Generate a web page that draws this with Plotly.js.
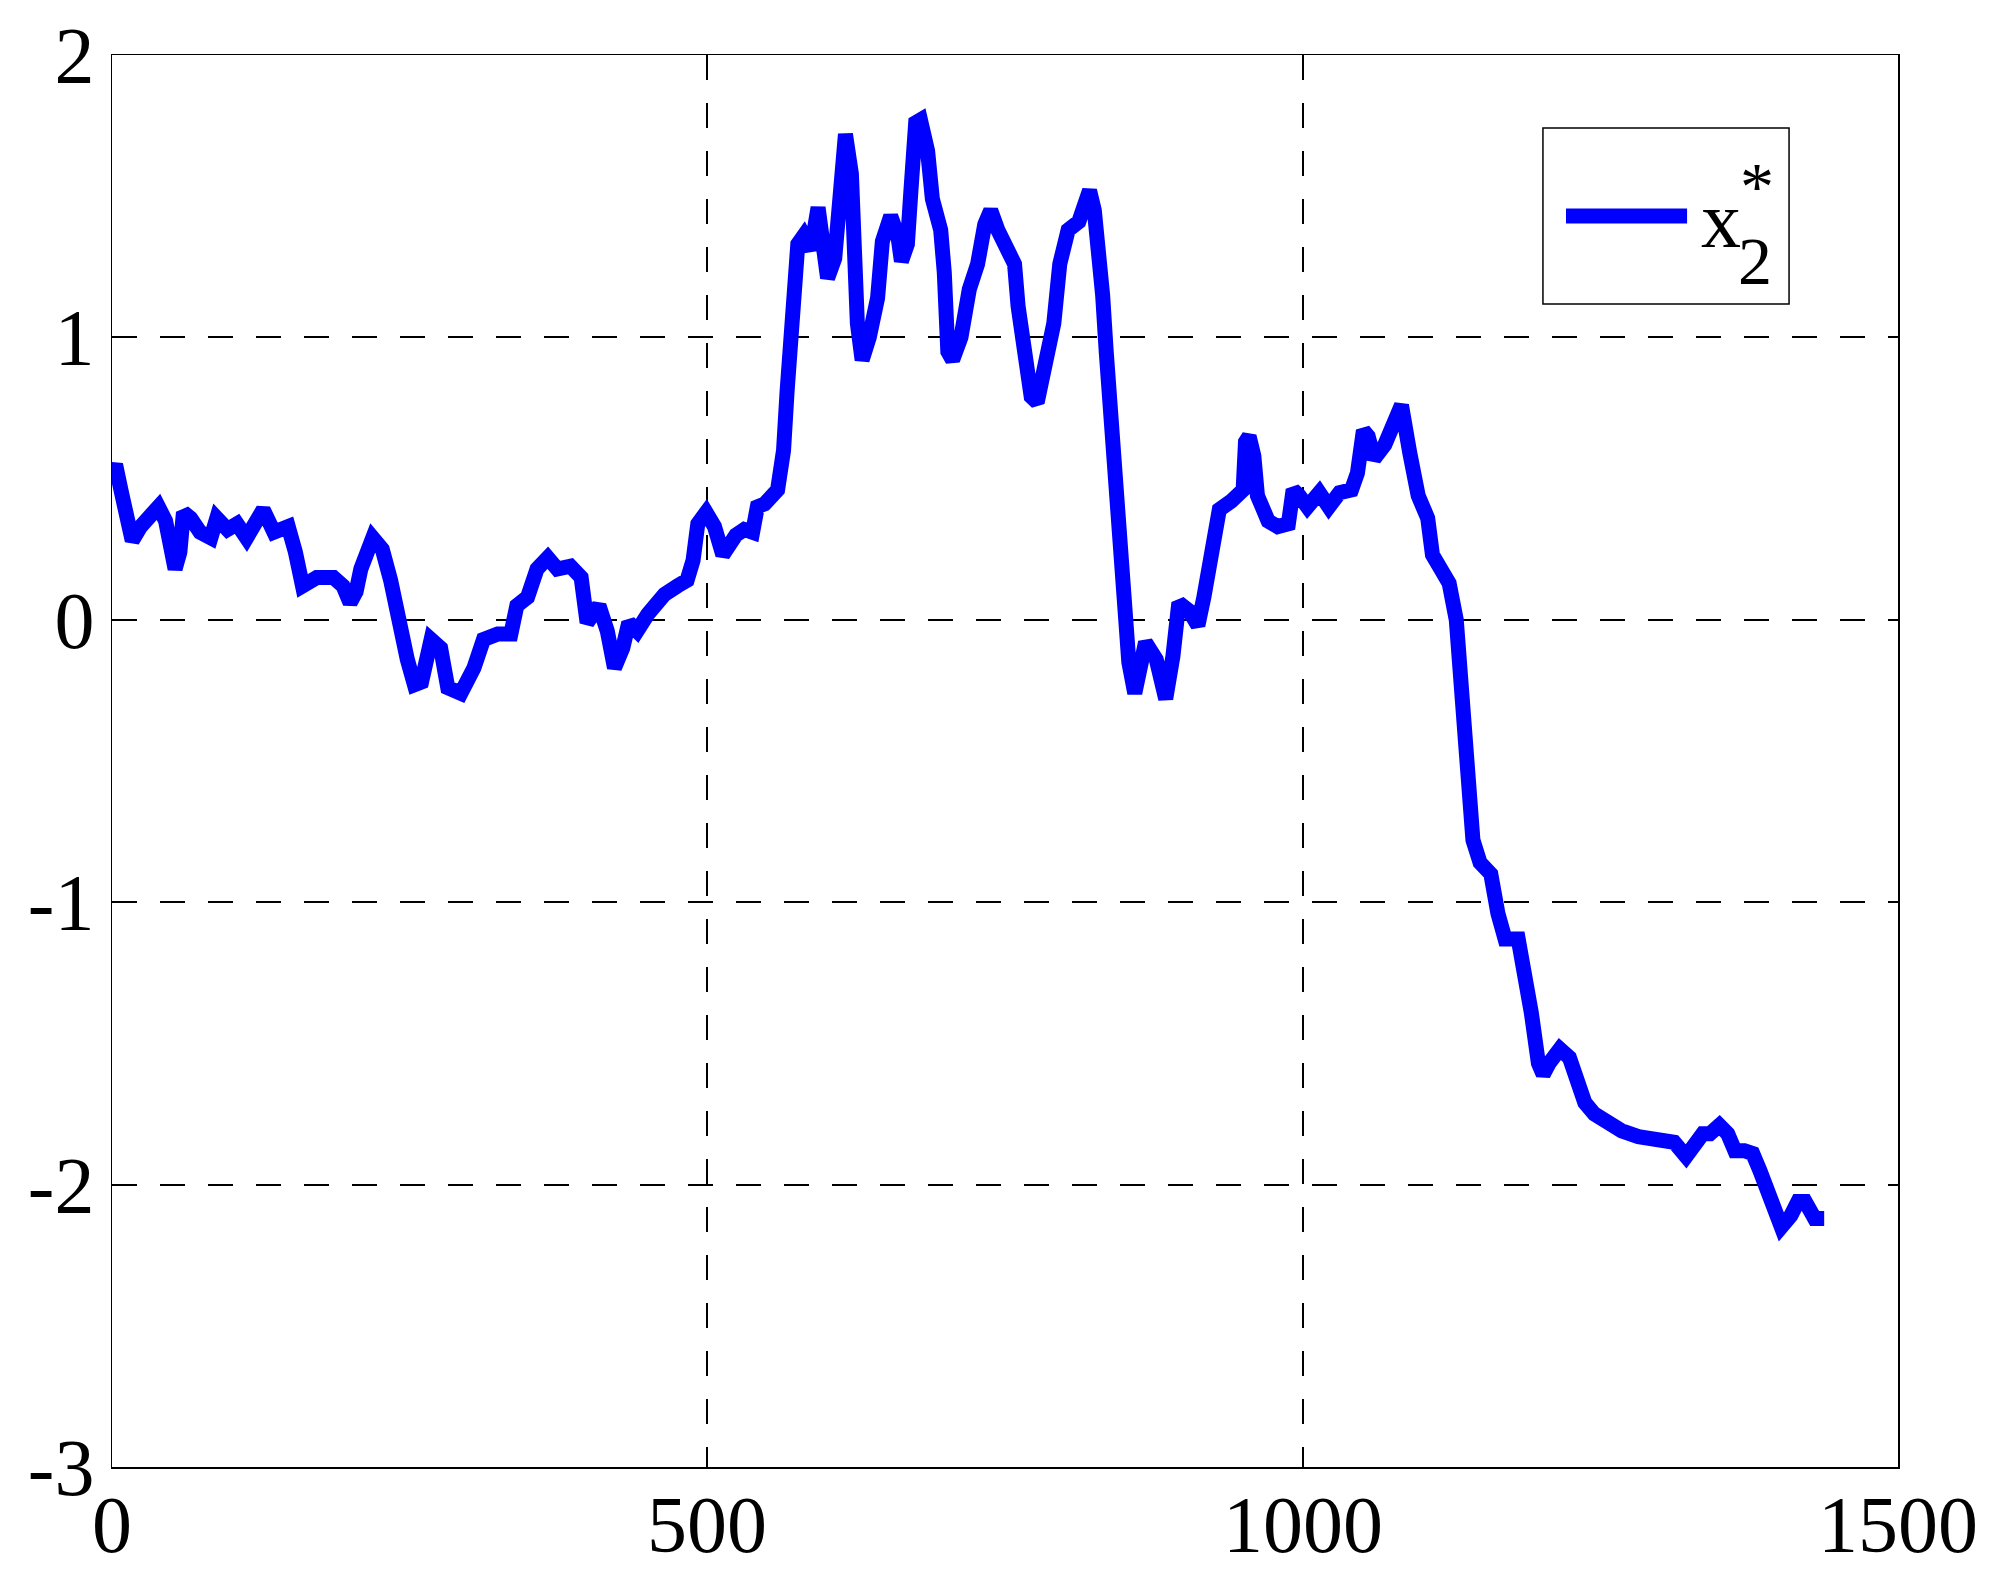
<!DOCTYPE html>
<html>
<head>
<meta charset="utf-8">
<script src="https://cdn.plot.ly/plotly-3.0.1.min.js"></script>
<style>
  html, body { margin: 0; padding: 0; background: #fff; }
  #chart { width: 2008px; height: 1576px; }
</style>
</head>
<body>
<div id="chart"></div>
<script>
// samples of x2*
const stepX = [
  0, 3, 8, 12, 17, 24, 32, 39, 45, 49, 53, 57, 60, 66, 74, 83, 88, 97, 105, 113,
  120, 127, 136, 148, 154, 160, 172, 186, 194, 200, 205, 209, 219, 227, 234, 242, 248, 254, 260, 268,
  276, 282, 293, 304, 312, 324, 335, 340, 349, 357, 366, 374, 385, 394, 399, 409, 416, 422, 429, 434,
  441, 450, 464, 475, 483, 488, 492, 499, 506, 513, 524, 531, 538, 542, 548, 559, 564, 567, 570, 573,
  576, 581, 587, 593, 597, 601, 607, 611, 616, 621, 623, 626, 630, 636, 643, 647, 654, 660, 663, 668,
  671, 675, 679, 685, 689, 696, 699, 702, 706, 713, 720, 727, 733, 738, 744, 752, 758, 761, 766, 772,
  777, 783, 791, 796, 803, 812, 817, 821, 825, 829, 832, 835, 839, 845, 847, 850, 854, 859, 863, 868,
  877, 881, 885, 891, 896, 905, 912, 917, 922, 926, 930, 940, 950, 952, 955, 959, 962, 971, 979, 988,
  992, 997, 1004, 1014, 1022, 1031, 1041, 1046, 1051, 1055, 1060, 1069, 1076, 1083, 1090, 1097, 1105, 1109, 1116, 1123,
  1129, 1132, 1135, 1139, 1143, 1149, 1158, 1164, 1170, 1181, 1186, 1192, 1198, 1202, 1207, 1216, 1224, 1231, 1237, 1245,
  1254, 1268, 1282, 1298, 1312, 1322, 1329, 1336, 1342, 1350, 1357, 1363, 1371, 1378, 1384, 1391, 1396, 1402, 1410, 1416,
  1422, 1430, 1438
];
const x2Star = [
  0.52, 0.55, 0.45, 0.36, 0.28, 0.33, 0.37, 0.40, 0.35, 0.22, 0.18, 0.24, 0.38, 0.36, 0.31, 0.29, 0.36, 0.32, 0.34, 0.29,
  0.33, 0.39, 0.31, 0.33, 0.24, 0.12, 0.15, 0.15, 0.12, 0.06, 0.10, 0.18, 0.29, 0.25, 0.14, -0.04, -0.14, -0.23, -0.22, -0.07,
  -0.10, -0.24, -0.26, -0.17, -0.07, -0.05, -0.05, 0.05, 0.08, 0.18, 0.22, 0.18, 0.19, 0.15, -0.01, 0.05, -0.04, -0.17, -0.10, -0.01,
  -0.04, 0.02, 0.09, 0.12, 0.14, 0.21, 0.34, 0.38, 0.33, 0.23, 0.30, 0.32, 0.31, 0.40, 0.41, 0.46, 0.60, 0.81, 1.05, 1.23,
  1.33, 1.36, 1.31, 1.46, 1.31, 1.21, 1.28, 1.58, 1.72, 1.58, 1.28, 1.05, 0.92, 1.00, 1.14, 1.34, 1.43, 1.36, 1.27, 1.33,
  1.52, 1.76, 1.77, 1.66, 1.49, 1.38, 1.23, 0.95, 0.92, 1.00, 1.17, 1.26, 1.40, 1.45, 1.38, 1.31, 1.26, 1.11, 0.95, 0.79,
  0.77, 0.90, 1.05, 1.26, 1.38, 1.41, 1.49, 1.52, 1.45, 1.31, 1.15, 0.95, 0.70, 0.46, 0.22, 0.03, -0.15, -0.26, -0.20, -0.08,
  -0.14, -0.25, -0.28, -0.13, 0.06, 0.03, -0.02, 0.08, 0.22, 0.34, 0.39, 0.42, 0.46, 0.63, 0.65, 0.58, 0.44, 0.35, 0.33, 0.34,
  0.46, 0.44, 0.40, 0.45, 0.40, 0.45, 0.46, 0.52, 0.67, 0.65, 0.57, 0.62, 0.70, 0.76, 0.59, 0.44, 0.36, 0.23, 0.18, 0.13,
  0.00, -0.21, -0.42, -0.61, -0.78, -0.86, -0.90, -1.04, -1.13, -1.13, -1.23, -1.39, -1.57, -1.61, -1.57, -1.52, -1.55, -1.63, -1.71, -1.75,
  -1.78, -1.81, -1.83, -1.84, -1.85, -1.90, -1.86, -1.82, -1.82, -1.79, -1.82, -1.88, -1.88, -1.89, -1.95, -2.02, -2.07, -2.15, -2.11, -2.06,
  -2.06, -2.12, -2.12
];

const xTicks = [0, 500, 1000, 1500];
const yTicks = [-3, -2, -1, 0, 1, 2];
const yTickText = ['-3', '-2', '-1', '0', '1', '2'];

const serif = 'Liberation Serif, Times New Roman, serif';
const lineBlue = '#0000ff';

const trace = {
  type: 'scatter',
  mode: 'lines',
  x: stepX,
  y: x2Star,
  name: 'x2*',
  showlegend: false,
  line: {color: lineBlue, width: 15}
};

const axisCommon = {
  showline: true,
  mirror: true,
  linecolor: '#000',
  linewidth: 1.5,
  ticks: '',
  showgrid: true,
  gridcolor: '#000',
  gridwidth: 2,
  griddash: '25px,23px',
  zeroline: false,
  tickfont: {family: serif, size: 80, color: '#000'}
};

// x tick labels sit tighter under the axis than plotly allows, so place them as annotations
const xLabelNotes = xTicks.map(function (v) {
  return {
    xref: 'x', yref: 'paper', x: v, y: 0, text: String(v), showarrow: false,
    xanchor: 'center', yanchor: 'top', yshift: -12,
    font: {family: serif, size: 80, color: '#000'}
  };
});

const layout = {
  width: 2008,
  height: 1576,
  margin: {l: 112, r: 110, t: 55, b: 109, pad: 0},
  paper_bgcolor: '#fff',
  plot_bgcolor: '#fff',
  showlegend: false,
  xaxis: Object.assign({}, axisCommon, {
    range: [0, 1500],
    tickvals: xTicks,
    showticklabels: false
  }),
  yaxis: Object.assign({}, axisCommon, {
    range: [-3, 2],
    tickvals: yTicks,
    ticktext: yTickText,
    ticklabelstandoff: 0
  }),
  // hand-drawn legend box: x2 with a star on top
  shapes: [
    {type: 'rect', xref: 'paper', yref: 'paper', x0: 0.8012, x1: 0.9390, y0: 0.8237, y1: 0.9483,
      line: {color: '#000', width: 1.5}, fillcolor: '#fff', layer: 'above'},
    {type: 'line', xref: 'paper', yref: 'paper', x0: 0.8141, x1: 0.8819, y0: 0.8860, y1: 0.8860,
      line: {color: lineBlue, width: 15}, layer: 'above'}
  ],
  annotations: xLabelNotes.concat([
    {xref: 'paper', yref: 'paper', x: 0.9009, y: 0.8831, text: 'x', showarrow: false,
      xanchor: 'center', yanchor: 'middle', font: {family: serif, size: 80, color: '#000'}},
    {xref: 'paper', yref: 'paper', x: 0.9199, y: 0.8541, text: '2', showarrow: false,
      xanchor: 'center', yanchor: 'middle', font: {family: serif, size: 68, color: '#000'}},
    {xref: 'paper', yref: 'paper', x: 0.9211, y: 0.9072, text: '*', showarrow: false,
      xanchor: 'center', yanchor: 'middle', font: {family: serif, size: 68, color: '#000'}}
  ])
};

Plotly.newPlot('chart', [trace], layout, {displayModeBar: false, staticPlot: true});
</script>
</body>
</html>
